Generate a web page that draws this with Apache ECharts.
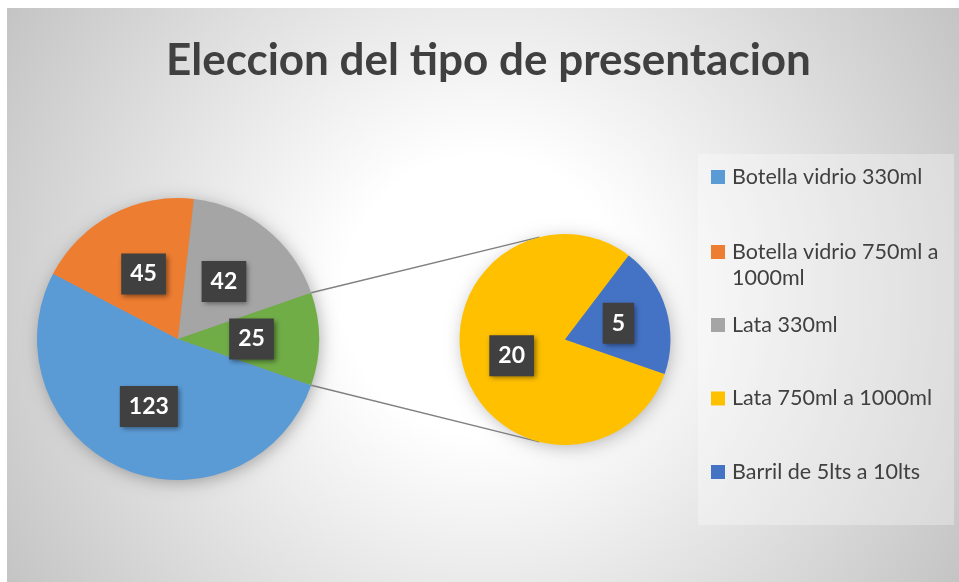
<!DOCTYPE html>
<html>
<head>
<meta charset="utf-8">
<script src="https://cdn.jsdelivr.net/npm/echarts@6/dist/echarts.min.js"></script>
<style>
  html, body { margin: 0; padding: 0; background: #fff; }
  #main { width: 959px; height: 582px; }
</style>
</head>
<body>
<div id="main"></div>
<script>
// datos del grafico
const mainNames = ['Botella vidrio 330ml', 'Botella vidrio 750ml a 1000ml', 'Lata 330ml'];
const mainValues = [123, 45, 42];
const subNames = ['Lata 750ml a 1000ml', 'Barril de 5lts a 10lts'];
const subValues = [20, 5];
const otherName = 'Otros';
const titleText = 'Eleccion del tipo de presentacion';

// colores (estilo office)
const mainColors = ['#5B9BD5', '#ED7D31', '#A5A5A5', '#70AD47'];
const subColors = ['#FFC000', '#4472C4'];

// geometria
const mainCenter = [178, 339];
const mainR = 141;
const subCenter = [565, 339.5];
const subR = 105.5;
const joinAngle = 104; // grados, donde llegan las lineas al segundo pie

const otherValue = subValues.reduce((a, b) => a + b, 0);
const total = mainValues.reduce((a, b) => a + b, 0) + otherValue;
const half = otherValue / total * 180;

const rad = Math.PI / 180;
function pt(c, r, a) {
  return [c[0] + r * Math.cos(a * rad), c[1] - r * Math.sin(a * rad)];
}
const p1 = pt(mainCenter, mainR, half), q1 = pt(subCenter, subR, joinAngle);
const p2 = pt(mainCenter, mainR, -half), q2 = pt(subCenter, subR, -joinAngle);

// titulo centrado en x=488
const titleFont = 'bold 44px Lato';
const ctx = document.createElement('canvas').getContext('2d');
ctx.font = titleFont;
const titleW = ctx.measureText(titleText).width;

const labelStyle = {
  show: true,
  position: 'inside',
  formatter: '{c}',
  color: '#fff',
  fontFamily: 'Lato',
  fontWeight: 'bold',
  fontSize: 23,
  lineHeight: 24,
  backgroundColor: '#404040',
  padding: [9, 9, 8, 9],
  shadowColor: 'rgba(0,0,0,0.45)',
  shadowBlur: 5,
  shadowOffsetX: 2,
  shadowOffsetY: 2
};

const mainData = mainNames.map((n, i) => ({ name: n, value: mainValues[i], itemStyle: { color: mainColors[i] } }));
mainData.push({ name: otherName, value: otherValue, itemStyle: { color: mainColors[3] } });
const subData = subNames.map((n, i) => ({ name: n, value: subValues[i], itemStyle: { color: subColors[i] } }));

// leyenda: un componente por item para respetar el espaciado
const legendNames = [mainNames[0], mainNames[1], mainNames[2], subNames[0], subNames[1]];
const legendCenters = [177, 252, 325, 398.5, 472];
const legends = legendNames.map((n, i) => {
  const two = i === 1;
  return {
    left: 711,
    top: two ? legendCenters[i] - 39 : legendCenters[i] - 13,
    orient: 'vertical',
    padding: 0,
    icon: 'rect',
    itemWidth: 14,
    itemHeight: 14,
    data: [n],
    // linea vacia arriba para que el icono quede con la primera linea
    formatter: two ? '\u00a0\nBotella vidrio 750ml a\n1000ml' : '{name}',
    textStyle: {
      color: '#404040',
      fontFamily: 'Lato',
      fontSize: 21.5,
      lineHeight: 26,
      padding: [0, 0, 0, 2]
    }
  };
});

const chart = echarts.init(document.getElementById('main'));
chart.setOption({
  animation: false,
  title: {
    text: titleText,
    left: Math.round(488.5 - titleW / 2),
    top: 35,
    padding: 0,
    textStyle: {
      color: '#404040',
      fontFamily: 'Lato',
      fontWeight: 'bold',
      fontSize: 44,
      lineHeight: 52
    }
  },
  legend: legends,
  graphic: [
    {
      type: 'rect', z: -10,
      shape: { x: 7, y: 8, width: 952, height: 574 },
      style: {
        fill: {
          type: 'radial', x: 0.5, y: 0.5, r: 0.97,
          colorStops: [
            { offset: 0, color: '#ffffff' },
            { offset: 0.25, color: '#ffffff' },
            { offset: 1, color: '#c4c4c4' }
          ]
        }
      }
    },
    {
      type: 'rect', z: -9,
      shape: { x: 698, y: 154, width: 256, height: 371 },
      style: { fill: 'rgba(255,255,255,0.3)' }
    },
    {
      type: 'circle', z: -8,
      shape: { cx: mainCenter[0], cy: mainCenter[1], r: mainR - 2 },
      style: { fill: '#999', shadowBlur: 18, shadowColor: 'rgba(0,0,0,0.35)', shadowOffsetX: 2, shadowOffsetY: 3 }
    },
    {
      type: 'circle', z: -8,
      shape: { cx: subCenter[0], cy: subCenter[1], r: subR - 2 },
      style: { fill: '#999', shadowBlur: 18, shadowColor: 'rgba(0,0,0,0.3)', shadowOffsetX: 2, shadowOffsetY: 3 }
    },
    {
      type: 'line', z: -5,
      shape: { x1: p1[0], y1: p1[1], x2: q1[0], y2: q1[1] },
      style: { stroke: '#808080', lineWidth: 1.5 }
    },
    {
      type: 'line', z: -5,
      shape: { x1: p2[0], y1: p2[1], x2: q2[0], y2: q2[1] },
      style: { stroke: '#808080', lineWidth: 1.5 }
    }
  ],
  series: [
    {
      type: 'pie',
      center: mainCenter,
      radius: mainR,
      startAngle: -half,
      clockwise: true,
      avoidLabelOverlap: false,
      label: labelStyle,
      labelLine: { show: false },
      itemStyle: { borderWidth: 0 },
      emphasis: { scale: false },
      data: mainData
    },
    {
      type: 'pie',
      center: subCenter,
      radius: subR,
      startAngle: -half,
      clockwise: true,
      avoidLabelOverlap: false,
      label: labelStyle,
      labelLine: { show: false },
      itemStyle: { borderWidth: 0 },
      emphasis: { scale: false },
      data: subData
    }
  ]
});
</script>
</body>
</html>
